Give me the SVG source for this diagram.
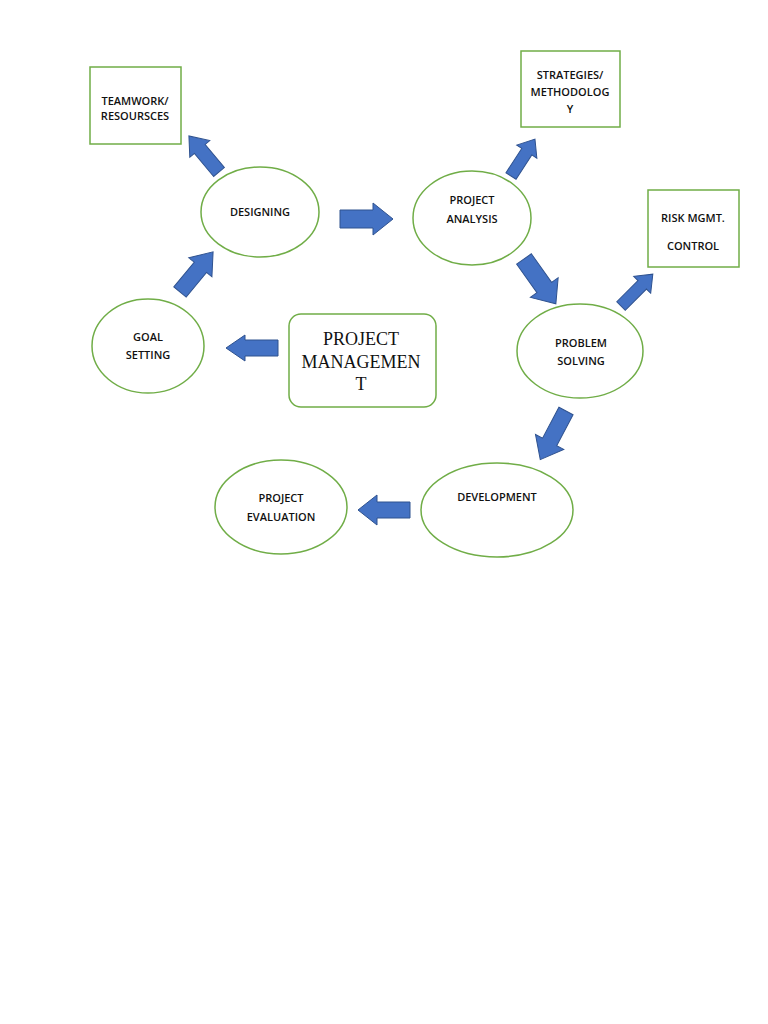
<svg xmlns="http://www.w3.org/2000/svg" width="768" height="1024" viewBox="0 0 768 1024">
<style>
.node{fill:#fff;stroke:#70AD47;stroke-width:1.5}
.arr{fill:#4472C4;stroke:#2F528F;stroke-width:1}
.t{font-family:"Open Sans","Noto Sans",sans-serif;font-size:11px;font-weight:600;fill:#111;text-anchor:middle}
.pm{font-family:"Liberation Serif",serif;font-size:18px;fill:#111;text-anchor:middle}
</style>
<rect width="768" height="1024" fill="#fff"/>
<g id="connectors">
<path class="arr" transform="translate(340,219)" d="M0,-9 L33,-9 L33,-16 L53,0 L33,16 L33,9 L0,9 Z"/>
<path class="arr" transform="translate(278,348) rotate(180)" d="M0,-8 L33,-8 L33,-13 L52,0 L33,13 L33,8 L0,8 Z"/>
<path class="arr" transform="translate(410,510) rotate(180)" d="M0,-8 L33,-8 L33,-15 L52,0 L33,15 L33,8 L0,8 Z"/>
<path class="arr" transform="translate(180,292) rotate(-50.5)" d="M0,-8 L32,-8 L32,-15 L52,0 L32,15 L32,8 L0,8 Z"/>
<path class="arr" transform="translate(219,172) rotate(-129.8)" d="M0,-7 L30,-7 L30,-13 L47,0 L30,13 L30,7 L0,7 Z"/>
<path class="arr" transform="translate(511,176) rotate(-57)" d="M0,-6 L29,-6 L29,-12 L44,0 L29,12 L29,6 L0,6 Z"/>
<path class="arr" transform="translate(524,259) rotate(54.6)" d="M0,-9 L35,-9 L35,-17 L55,0 L35,17 L35,9 L0,9 Z"/>
<path class="arr" transform="translate(621,306) rotate(-45)" d="M0,-6 L30,-6 L30,-12 L45,0 L30,12 L30,6 L0,6 Z"/>
<path class="arr" transform="translate(566,411) rotate(117.9)" d="M0,-8 L35,-8 L35,-16 L55,0 L35,16 L35,8 L0,8 Z"/>
</g>
<g id="teamwork">
<rect class="node" x="90" y="67" width="91" height="77"/>
<text class="t" x="135" y="105">TEAMWORK/</text>
<text class="t" x="135" y="120">RESOURSCES</text>
</g>
<g id="strategies">
<rect class="node" x="521" y="51" width="99" height="76"/>
<text class="t" x="570" y="79">STRATEGIES/</text>
<text class="t" x="570" y="96">METHODOLOG</text>
<text class="t" x="570" y="113">Y</text>
</g>
<g id="risk">
<rect class="node" x="648" y="190" width="91" height="77"/>
<text class="t" x="693" y="222">RISK MGMT.</text>
<text class="t" x="693" y="250">CONTROL</text>
</g>
<g id="designing">
<ellipse class="node" cx="260" cy="212" rx="59" ry="45"/>
<text class="t" x="260" y="216">DESIGNING</text>
</g>
<g id="analysis">
<ellipse class="node" cx="472" cy="218" rx="59" ry="47"/>
<text class="t" x="472" y="204">PROJECT</text>
<text class="t" x="472" y="223">ANALYSIS</text>
</g>
<g id="goal">
<ellipse class="node" cx="148" cy="346" rx="56" ry="47"/>
<text class="t" x="148" y="341">GOAL</text>
<text class="t" x="148" y="359">SETTING</text>
</g>
<g id="pm">
<rect class="node" x="289" y="314" width="147" height="93" rx="12"/>
<text class="pm" x="361" y="345">PROJECT</text>
<text class="pm" x="361" y="368">MANAGEMEN</text>
<text class="pm" x="361" y="390">T</text>
</g>
<g id="problem">
<ellipse class="node" cx="580" cy="351" rx="63" ry="47"/>
<text class="t" x="581" y="347">PROBLEM</text>
<text class="t" x="581" y="365">SOLVING</text>
</g>
<g id="development">
<ellipse class="node" cx="497" cy="510" rx="76" ry="47"/>
<text class="t" x="497" y="501">DEVELOPMENT</text>
</g>
<g id="evaluation">
<ellipse class="node" cx="281" cy="507" rx="66" ry="47"/>
<text class="t" x="281" y="502">PROJECT</text>
<text class="t" x="281" y="521">EVALUATION</text>
</g>
</svg>
